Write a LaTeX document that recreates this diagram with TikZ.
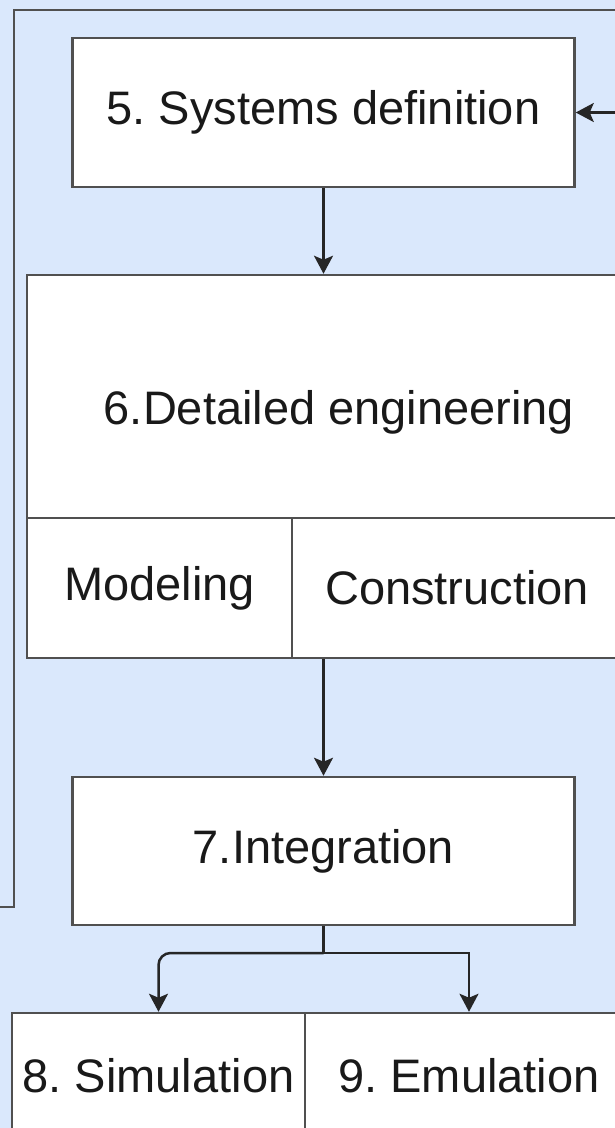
\documentclass[tikz,border=0pt]{standalone}
\usepackage{fontspec}
\setmainfont{Liberation Sans}
\usetikzlibrary{arrows.meta}
\definecolor{bgblue}{RGB}{218,232,252}
\definecolor{edgegray}{RGB}{80,80,80}
\frenchspacing
\tikzset{
  font=\fontsize{47}{56}\selectfont,
  % Set arrowhead
  >={Stealth[length=18pt, width=19pt, inset=4pt]},
  % Process box
  box/.style={draw=edgegray, fill=white, shape=rectangle, line width=2.5pt,
    inner sep=0pt, text=black!90},
  % Connectors
  link/.style={->, draw=black!85, line width=2.5pt},
  % Frame of the group
  frame/.style={draw=edgegray, line width=2.5pt},
}

\begin{document}
\begin{tikzpicture}[x=1pt, y=-1pt]

    % Background of the group
    \fill[bgblue] (0,0) rectangle (615,1128);
    \useasboundingbox (0,0) rectangle (615,1128);
    \clip (0,0) rectangle (615,1128);

    \draw[frame] (0,907) -- (14,907) -- (14,10) -- (615,10);

    \node[box, minimum width=502pt, minimum height=149pt] (sysdef) at (323.5,112.5) {5. Systems definition};

    \node[box, minimum width=595pt, minimum height=243pt] (deteng) at (324.5,396.5) {};
    \node[text=black!90] (detlabel) at (339,412) {6.Detailed engineering};
    \node[box, minimum width=265pt, minimum height=140pt] (model) at (159.5,588) {Modeling};
    \node[box, minimum width=330pt, minimum height=140pt] (constr) at (457,588) {Construction};

    \node[box, minimum width=502pt, minimum height=148pt] (integ) at (323.5,851) {7.Integration};

    \node[box, minimum width=293pt, minimum height=126pt] (simul) at (158.5,1076) {8. Simulation};
    \node[box, minimum width=328pt, minimum height=126pt] (emul) at (469,1076) {9. Emulation};

    % \node (feed) at (615,112.5) {};
    \coordinate (feed) at (615,112.5);
    \coordinate (split) at (323.5,953);

    \draw[link] (feed) -- (sysdef.east);
    \draw[link] (sysdef.south) -- (sysdef.south |- deteng.north);
    \draw[link] (integ.north |- constr.south) -- (integ.north);
    \draw[link] (integ.south) -- (split) -| (emul.north);
    \draw[link, rounded corners=12pt] (split) -| (simul.north);
  \end{tikzpicture}
\end{document}
